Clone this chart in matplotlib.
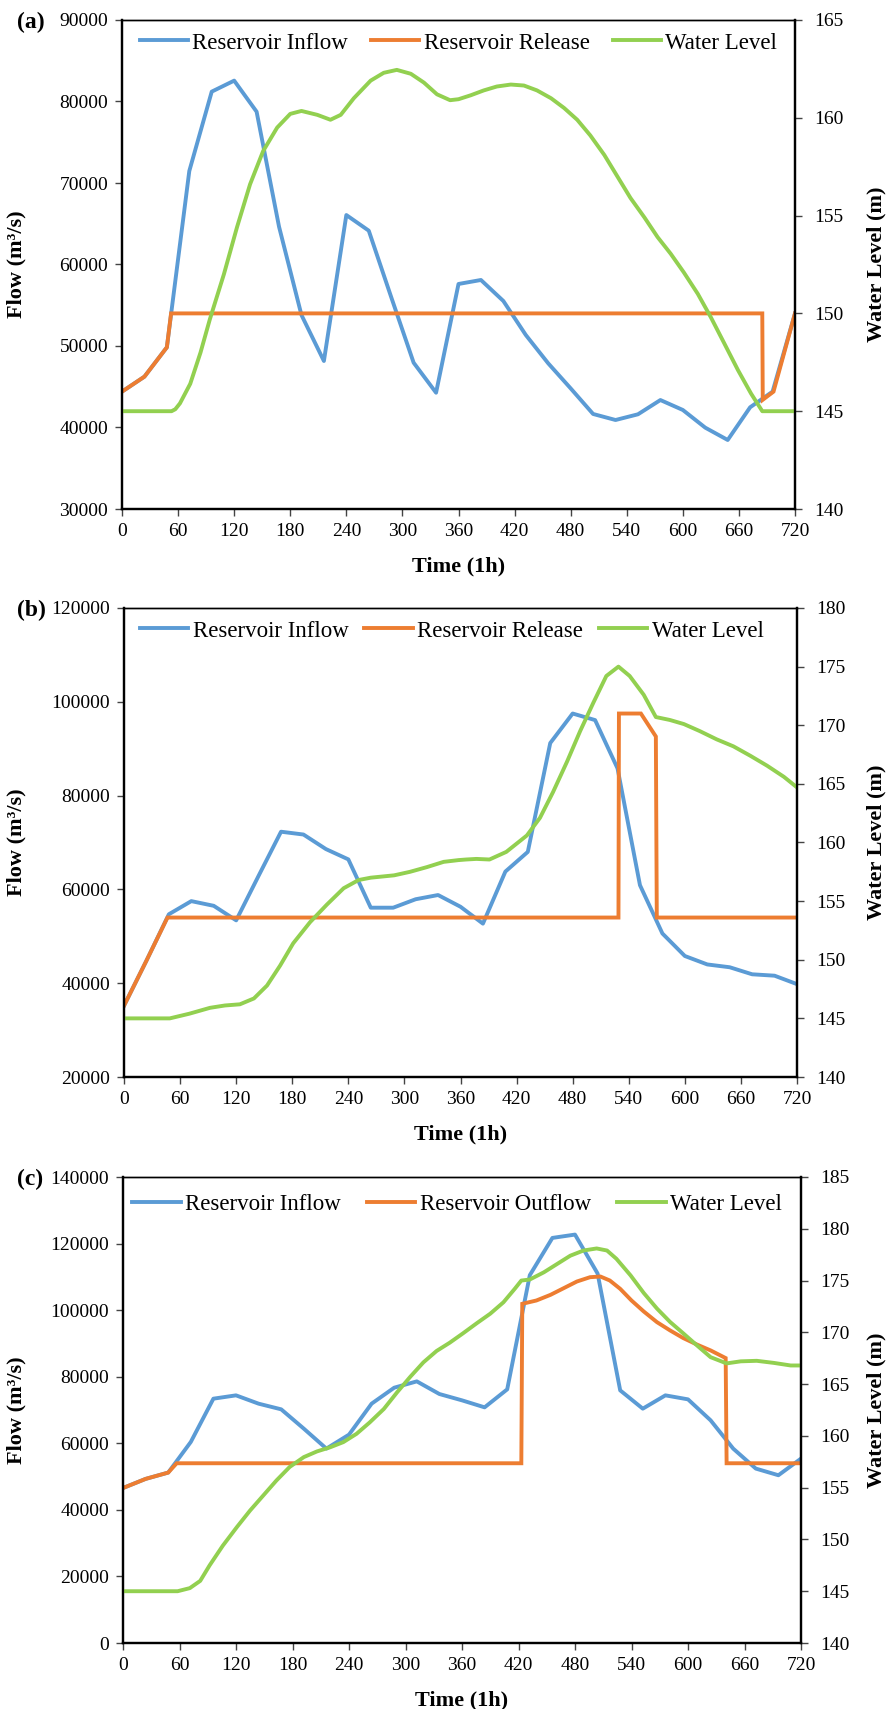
import numpy as np
import matplotlib
matplotlib.use("Agg")
import matplotlib.pyplot as plt
from matplotlib.ticker import FormatStrFormatter

plt.rcParams["font.family"] = ["Liberation Serif", "DejaVu Serif"]

C_IN = "#5B9BD5"
C_OUT = "#ED7D31"
C_WL = "#92D050"

# ---- panel (a) ----
hours = [0, 24, 48, 72, 96, 120, 144, 168, 192, 216, 240, 264, 288, 312, 336, 360,
         384, 408, 432, 456, 480, 504, 528, 552, 576, 600, 624, 648, 672, 696, 720]
inflow_a = [44400, 46240, 49840, 71470, 81210, 82560, 78750, 64640, 53800, 48160, 66070,
            64150, 56000, 47950, 44270, 57610, 58100, 55520, 51350, 47870, 44800, 41660,
            40920, 41620, 43370, 42150, 39980, 38470, 42480, 44400, 54000]
release_a_t = [0, 24, 48, 52.5, 685, 685.5, 697, 720]
release_a = [44400, 46240, 49840, 54000, 54000, 43400, 44400, 54000]
level_a_t = [0, 53, 57, 62, 73, 84, 94, 109, 123, 137, 151, 166, 180, 192, 209, 223, 234,
             248, 266, 280, 294, 309, 323, 337, 351, 360, 373, 387, 401, 416, 430, 444,
             459, 473, 487, 501, 516, 530, 544, 559, 573, 587, 601, 616, 630, 644, 659,
             673, 685, 720]
level_a = [145.0, 145.0, 145.1, 145.4, 146.4, 148.0, 149.7, 152.0, 154.4, 156.6, 158.3,
           159.5, 160.2, 160.35, 160.15, 159.9, 160.15, 161.0, 161.9, 162.3, 162.45,
           162.25, 161.8, 161.2, 160.9, 160.95, 161.15, 161.4, 161.6, 161.7, 161.65,
           161.4, 161.0, 160.5, 159.9, 159.1, 158.1, 157.0, 155.9, 154.9, 153.9, 153.05,
           152.1, 151.0, 149.8, 148.5, 147.1, 145.9, 145.0, 145.0]

# ---- panel (b) ----
inflow_b = [35200, 44800, 54700, 57500, 56500, 53400, 62900, 72300, 71700, 68600, 66400,
            56100, 56100, 57900, 58800, 56300, 52700, 63800, 68000, 91200, 97500, 96100,
            85800, 60900, 50600, 45800, 44000, 43400, 41900, 41600, 39800]
release_b_t = [0, 24, 46.5, 529, 529.5, 553, 569, 570, 720]
release_b = [35200, 44800, 54000, 54000, 97500, 97500, 92600, 54000, 54000]
level_b_t = [0, 49, 70, 92, 108, 124, 139, 153, 167, 181, 199, 217, 235, 251, 264, 289,
             306, 324, 342, 358, 366, 377, 391, 409, 431, 445, 459, 474, 488, 502, 516,
             529, 541, 556, 569, 584, 599, 616, 634, 652, 670, 688, 706, 720]
level_b = [145.0, 145.0, 145.4, 145.9, 146.1, 146.2, 146.7, 147.8, 149.5, 151.4, 153.2,
           154.7, 156.1, 156.8, 157.0, 157.2, 157.5, 157.9, 158.35, 158.5, 158.55, 158.6,
           158.55, 159.2, 160.6, 162.1, 164.3, 166.9, 169.5, 171.9, 174.2, 175.0, 174.2,
           172.6, 170.7, 170.45, 170.1, 169.5, 168.8, 168.2, 167.4, 166.55, 165.6, 164.7]

# ---- panel (c) ----
inflow_c = [46560, 49300, 51200, 60400, 73400, 74400, 71900, 70200, 64400, 58400, 62600,
            71900, 76700, 78600, 74800, 72900, 70800, 76200, 110500, 121700, 122700,
            111000, 75900, 70400, 74400, 73200, 66900, 58400, 52400, 50400, 55400]
outflow_c_t = [0, 24, 48, 57, 423, 424, 439, 454, 468, 482, 496, 507, 517, 528, 540, 553,
               567, 581, 595, 610, 624, 640, 641, 720]
outflow_c = [46560, 49300, 51200, 54000, 54000, 101900, 102900, 104600, 106600, 108600,
             109900, 110100, 108900, 106400, 102900, 99600, 96400, 93900, 91600, 89600,
             87900, 85600, 54000, 54000]
level_c_t = [0, 58, 71, 82, 92, 106, 121, 135, 149, 163, 177, 192, 206, 220, 234, 248, 262,
             277, 291, 305, 319, 333, 347, 361, 376, 390, 404, 416, 423, 432, 447, 461, 475,
             489, 503, 514, 524, 539, 553, 567, 581, 595, 610, 624, 641, 656, 673, 691, 709,
             720]
level_c = [145.0, 145.0, 145.3, 146.0, 147.5, 149.4, 151.2, 152.8, 154.25, 155.7, 157.0,
           157.95, 158.5, 158.9, 159.4, 160.2, 161.3, 162.6, 164.2, 165.7, 167.1, 168.2,
           169.0, 169.9, 170.9, 171.8, 172.9, 174.2, 175.0, 175.1, 175.8, 176.6, 177.4,
           177.9, 178.1, 177.9, 177.1, 175.5, 173.8, 172.3, 171.0, 169.9, 168.7, 167.6,
           167.0, 167.2, 167.25, 167.05, 166.8, 166.8]

W, H = 893, 1709
fig = plt.figure(figsize=(W / 100, H / 100), dpi=100)

# box = (left, right, top, bottom) in pixels
panels = [
    dict(tag="(a)", box=(122, 795, 20, 509), flim=(30000, 90000, 10000), wlim=(140, 165),
         inflow=inflow_a, out_t=release_a_t, out=release_a, lv_t=level_a_t, lv=level_a,
         out_name="Reservoir Release", leg=(0.50, 0.953), colsp=1.0),
    dict(tag="(b)", box=(124, 797, 608, 1077), flim=(20000, 120000, 20000), wlim=(140, 180),
         inflow=inflow_b, out_t=release_b_t, out=release_b, lv_t=level_b_t, lv=level_b,
         out_name="Reservoir Release", leg=(0.487, 0.951), colsp=0.7),
    dict(tag="(c)", box=(123, 801, 1177, 1643), flim=(0, 140000, 20000), wlim=(140, 185),
         inflow=inflow_c, out_t=outflow_c_t, out=outflow_c, lv_t=level_c_t, lv=level_c,
         out_name="Reservoir Outflow", leg=(0.493, 0.941), colsp=1.15),
]

lw = 2.8
for p in panels:
    l, r, t, b = p["box"]
    ax = fig.add_axes([l / W, 1 - b / H, (r - l) / W, (b - t) / H])
    ax2 = ax.twinx()

    h1, = ax.plot(hours, p["inflow"], color=C_IN, lw=lw, solid_joinstyle="round",
                  label="Reservoir Inflow")
    h2, = ax.plot(p["out_t"], p["out"], color=C_OUT, lw=lw, solid_joinstyle="miter",
                  label=p["out_name"])
    h3, = ax2.plot(p["lv_t"], p["lv"], color=C_WL, lw=lw, solid_joinstyle="round",
                   label="Water Level")

    ax.set_xlim(0, 720)
    ax.set_xticks(range(0, 721, 60))
    f0, f1, fs = p["flim"]
    ax.set_ylim(f0, f1)
    ax.set_yticks(np.arange(f0, f1 + 1, fs))
    ax.yaxis.set_major_formatter(FormatStrFormatter("%d"))
    w0, w1 = p["wlim"]
    ax2.set_ylim(w0, w1)
    ax2.set_yticks(np.arange(w0, w1 + 1, 5))

    for a in (ax, ax2):
        for s in a.spines.values():
            s.set_linewidth(1.6)
            s.set_color("black")
        a.spines["top"].set_linewidth(1.0)
    ax.tick_params(axis="both", labelsize=14, length=5, width=1, color="#444444",
                   direction="out")
    ax.tick_params(axis="y", pad=5)
    ax.tick_params(axis="x", pad=5)
    ax2.tick_params(axis="y", labelsize=14, length=5, width=1, color="#444444",
                    direction="out", pad=9)

    ax.set_xlabel("Time (1h)", fontsize=16, fontweight="bold", labelpad=12)
    ax.set_ylabel("Flow (m³/s)", fontsize=16, fontweight="bold")
    ax.yaxis.set_label_coords((26 - l) / (r - l), 0.5)
    ax2.set_ylabel("Water Level (m)", fontsize=16, fontweight="bold")
    ax2.yaxis.set_label_coords((866 - l) / (r - l), 0.5)

    ax.legend(handles=[h1, h2, h3], loc="center", bbox_to_anchor=p["leg"], ncol=3,
              frameon=False, fontsize=16.5, handlelength=2.1, handletextpad=0.2,
              columnspacing=p["colsp"], borderpad=0, borderaxespad=0)

    fig.text(17 / W, 1 - (t + 2) / H, p["tag"], fontsize=17, fontweight="bold",
             ha="left", va="center")

fig.savefig("out.png", dpi=100)
